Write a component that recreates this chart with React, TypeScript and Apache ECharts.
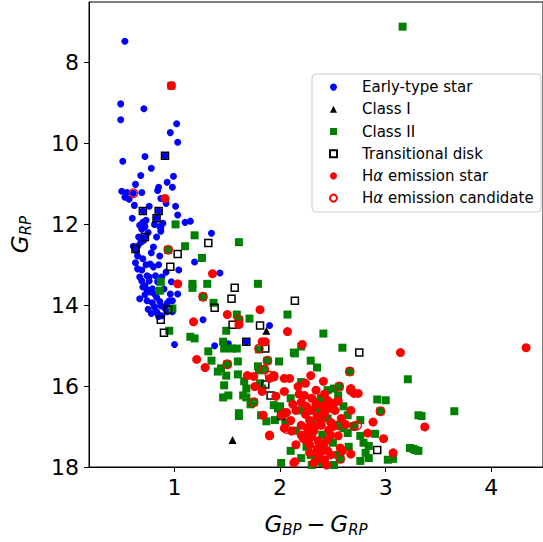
import React, { useEffect, useRef } from 'react';
import * as echarts from 'echarts';

const xTicks = [1, 2, 3, 4];
const yTicks = [8, 10, 12, 14, 16, 18];

const seriesNames = ['Early-type star', 'Class I', 'Class II', 'Transitional disk', 'Hα emission star', 'Hα emission candidate'];

const earlyType = [
  [0.53, 7.47], [0.49, 9.02], [0.71, 9.14], [0.49, 9.41], [1.02, 9.51], [0.96, 9.73], [1.03, 9.97], [0.72, 10.32], [0.91, 10.30],
  [0.51, 10.44], [0.78, 10.61], [0.68, 10.79], [0.99, 10.81], [0.93, 10.96], [0.63, 11.01], [0.85, 11.08], [0.84, 11.16], [0.98, 11.08],
  [0.50, 11.18], [0.69, 11.21], [0.55, 11.21], [0.53, 11.33], [0.57, 11.38], [0.61, 11.23], [0.87, 11.36], [0.92, 11.48], [0.62, 11.53],
  [0.76, 11.55], [1.01, 11.55], [0.70, 11.67], [0.85, 11.67], [1.03, 11.77], [0.83, 11.85], [0.60, 11.85], [0.73, 11.90], [0.70, 11.95],
  [0.67, 12.02], [0.72, 12.05], [0.81, 12.00], [0.86, 12.05], [0.89, 11.97], [0.87, 12.09], [0.87, 12.17], [0.69, 12.12], [1.10, 11.95],
  [1.15, 11.92], [0.66, 12.31], [0.83, 12.31], [0.72, 12.31], [0.71, 12.39], [1.35, 12.22], [0.63, 12.61], [0.65, 12.54], [0.61, 12.54],
  [0.80, 12.56], [0.64, 12.66], [0.65, 12.78], [0.86, 12.78], [0.63, 12.95], [1.19, 12.93], [0.73, 13.00], [0.77, 12.98], [0.85, 13.00],
  [1.04, 13.13], [0.65, 13.10], [0.69, 13.13], [1.43, 13.20], [0.67, 13.30], [0.76, 13.30], [0.82, 13.27], [0.74, 13.27], [0.92, 13.18],
  [0.69, 13.40], [0.76, 13.40], [0.84, 13.42], [0.97, 13.42], [0.72, 13.52], [0.74, 13.62], [0.72, 13.74], [0.77, 13.67], [0.79, 13.59],
  [0.81, 13.72], [0.96, 13.72], [1.03, 13.72], [0.67, 13.84], [0.74, 13.89], [0.79, 13.94], [0.81, 14.04], [0.86, 13.91], [0.87, 14.01],
  [0.98, 13.89], [0.83, 14.16], [0.85, 14.28], [0.91, 14.04], [0.95, 13.89], [0.84, 14.21], [0.88, 14.26], [0.93, 14.16], [0.98, 14.16],
  [0.91, 14.08], [1.27, 14.36], [1.90, 14.50], [1.00, 14.97], [1.38, 15.00], [1.51, 14.95], [1.68, 14.90],
  [0.68, 12.45], [0.75, 12.20], [0.78, 12.70], [0.70, 12.85], [0.80, 13.05], [0.88, 13.30], [0.70, 13.55], [0.83, 13.80], [0.90, 13.60],
  [0.75, 14.10], [0.93, 13.95], [0.78, 14.20],
];

const classI = [[1.87, 14.63], [1.55, 17.33]];

const classII = [
  [3.16, 7.11], [0.97, 8.57], [1.01, 12.00], [1.19, 12.27], [1.61, 12.44], [1.10, 12.54], [1.26, 12.83], [0.94, 12.63], [0.87, 13.42],
  [0.86, 13.64], [1.17, 13.47], [1.17, 13.57], [1.31, 13.47], [1.79, 13.47], [1.27, 13.79], [1.37, 13.94], [0.98, 14.08], [1.59, 14.23],
  [1.71, 14.33], [1.61, 14.36], [1.49, 14.63], [0.95, 14.63], [1.15, 14.78], [1.19, 14.82], [2.07, 14.23], [1.46, 14.90], [1.47, 15.07],
  [1.54, 15.07], [1.59, 15.07], [1.32, 15.14], [1.35, 15.37], [1.60, 15.39], [1.41, 15.64], [1.44, 15.56], [1.49, 15.74], [1.60, 15.71],
  [1.50, 15.46], [1.79, 15.51], [1.80, 15.61], [1.99, 15.39], [2.14, 15.19], [2.29, 15.37], [2.35, 15.54], [2.41, 14.70], [2.59, 15.05],
  [2.13, 15.17], [2.20, 15.02], [1.47, 15.98], [1.66, 15.88], [1.68, 16.06], [1.46, 16.28], [1.51, 16.23], [1.65, 16.23], [1.68, 16.28],
  [1.61, 16.67], [1.61, 16.74], [1.82, 16.72], [1.94, 16.47], [1.98, 16.55], [1.81, 15.93], [1.83, 16.06], [1.72, 16.45], [1.80, 15.09],
  [1.88, 15.37], [3.21, 15.83], [2.92, 16.33], [3.00, 16.35], [3.31, 16.72], [3.65, 16.62], [3.34, 16.74], [3.26, 17.55], [3.31, 17.60],
  [3.07, 17.80], [3.02, 17.82], [2.01, 17.90], [1.87, 16.87], [1.95, 16.84], [2.64, 16.72], [2.76, 16.84], [2.90, 17.18], [2.76, 17.23],
  [2.79, 17.40], [2.84, 17.48], [2.81, 17.65], [2.84, 17.78], [2.76, 17.85], [2.64, 17.16], [2.51, 16.06], [2.55, 16.23], [2.48, 16.42],
  [2.60, 17.04], [3.23, 17.53], [3.28, 17.58], [2.20, 17.78], [2.29, 17.70], [2.36, 17.85], [2.51, 17.95],
  [2.20, 16.60], [2.30, 16.90], [2.40, 17.20], [2.35, 16.40], [2.45, 16.80], [2.15, 17.10], [2.25, 17.50], [2.50, 17.40], [2.55, 17.70],
  [2.40, 17.90], [2.30, 17.95], [2.10, 16.30], [2.05, 16.90], [2.60, 16.50], [2.70, 17.00], [2.65, 17.50], [2.20, 15.90], [2.45, 16.10],
  [2.10, 17.60], [2.00, 16.50],
  [1.85, 15.59], [1.94, 15.76], [2.56, 16.01], [2.66, 15.64], [2.39, 16.30], [2.95, 16.62], [2.70, 16.99], [2.55, 16.97], [2.57, 17.80],
  [2.67, 16.10], [2.04, 16.67], [2.36, 16.57], [1.75, 16.40],
];

const transitional = [
  [0.91, 10.30], [0.70, 11.67], [0.85, 11.67], [0.83, 11.85], [0.72, 12.31], [0.63, 12.61], [1.32, 12.46], [1.03, 12.73], [0.96, 13.05],
  [1.57, 13.57], [1.54, 13.84], [0.94, 14.11], [1.38, 14.06], [0.87, 14.36], [1.81, 14.50], [0.90, 14.68], [1.68, 14.90], [1.55, 14.48],
  [1.86, 15.07], [2.14, 13.89], [2.75, 15.17], [2.92, 17.58], [1.86, 15.96], [1.91, 16.23], [2.01, 16.74],
];

const haStar = [
  [0.97, 8.57], [0.91, 11.36], [1.36, 13.22], [1.03, 13.47], [1.18, 14.41], [1.50, 14.23], [1.81, 14.11], [1.61, 14.48], [1.83, 14.90],
  [1.86, 14.90], [2.07, 14.65], [2.21, 14.97], [3.14, 15.17], [4.33, 15.05], [1.21, 15.34], [1.29, 15.54], [1.69, 15.74], [1.75, 15.76],
  [1.76, 16.01], [1.83, 16.13], [1.90, 15.81], [1.94, 15.74], [1.84, 16.72], [1.90, 17.23], [2.14, 17.87], [3.07, 17.65], [2.98, 17.30],
  [2.88, 16.89], [3.37, 17.01], [2.04, 15.81], [2.09, 15.81], [2.29, 15.74], [2.41, 15.88], [2.24, 15.93], [2.34, 16.10], [2.67, 16.06],
  [2.70, 16.18], [2.74, 16.18], [1.96, 16.25], [2.04, 16.13], [2.17, 16.01], [2.23, 16.23], [2.45, 16.35], [2.51, 16.42], [2.46, 16.55],
  [2.55, 16.37], [2.67, 16.60], [1.90, 17.21], [2.04, 17.04], [2.11, 17.11], [2.20, 16.97], [2.26, 17.04], [2.32, 17.11], [2.39, 16.97],
  [2.46, 17.09], [2.48, 17.21], [2.55, 17.23], [2.83, 17.16], [2.20, 17.21], [2.26, 17.36], [2.36, 17.36], [2.41, 17.48], [2.45, 17.60],
  [2.48, 17.70], [2.42, 17.82], [2.36, 17.70], [2.15, 17.45], [2.57, 17.53], [2.59, 17.60], [2.67, 17.68], [2.13, 17.90], [2.01, 16.72],
  [2.25, 16.50], [2.30, 16.60], [2.35, 16.75], [2.40, 16.50], [2.20, 16.40], [2.15, 16.60], [2.28, 16.85], [2.38, 16.85], [2.42, 16.70],
  [2.33, 17.00], [2.30, 17.25], [2.22, 17.30], [2.40, 17.60], [2.35, 17.55], [2.38, 17.80], [2.32, 17.90], [2.44, 17.95], [2.28, 17.65],
  [2.48, 16.90], [2.52, 16.60], [2.58, 16.80], [2.18, 16.20], [2.30, 16.30], [2.42, 16.20], [2.12, 16.45], [2.06, 16.65], [2.10, 16.85],
  [2.24, 16.70], [2.50, 17.00], [2.62, 16.95], [2.34, 16.45], [2.26, 17.15], [2.44, 17.35], [2.28, 17.45],
];

const haCandidate = [
  [0.61, 11.23], [0.94, 12.63], [1.27, 13.79], [1.61, 14.36], [1.50, 15.46], [1.80, 15.07], [1.88, 15.37], [1.85, 15.59], [1.94, 15.76],
  [1.75, 16.40], [2.56, 16.01], [2.66, 15.64], [2.39, 16.30], [2.95, 16.62], [2.70, 16.99], [2.73, 16.97], [2.55, 16.97], [2.57, 17.80],
  [1.90, 15.74], [2.67, 16.10], [2.04, 16.67], [2.06, 17.06], [2.36, 16.57], [2.42, 16.60],
];

const FONT = 'DejaVu Sans';

export default function App() {
  const ref = useRef<HTMLDivElement>(null);

  useEffect(() => {
    if (!ref.current) return;
    const chart = echarts.init(ref.current, null, { renderer: 'svg' });

    const nameRich = {
      g: { fontSize: 23, fontStyle: 'italic', fontFamily: FONT, color: '#000', lineHeight: 26, verticalAlign: 'bottom', padding: [0, 0, 2, 0] },
      s: { fontSize: 15, fontStyle: 'italic', fontFamily: FONT, color: '#000', lineHeight: 18, verticalAlign: 'bottom' },
      m: { fontSize: 23, fontFamily: FONT, color: '#000', lineHeight: 26, verticalAlign: 'bottom', padding: [0, 0, 2, 0] },
      w: { fontSize: 15, fontFamily: FONT, color: '#000', lineHeight: 18, verticalAlign: 'bottom' },
    };

    const axisCommon = {
      type: 'value',
      splitLine: { show: false },
      axisLine: { show: true, onZero: false, lineStyle: { color: '#000', width: 1 } },
      axisTick: { show: true, length: 5, lineStyle: { color: '#000', width: 1 } },
    };

    chart.setOption({
      animation: false,
      backgroundColor: '#ffffff',
      grid: { left: 86, right: -1, top: 2, bottom: 73, show: true, borderColor: '#000', borderWidth: 1, backgroundColor: 'transparent' },
      xAxis: {
        ...axisCommon,
        min: 0.19,
        max: 4.49,
        axisTick: { ...axisCommon.axisTick, customValues: xTicks },
        axisLabel: { customValues: xTicks, fontSize: 22, color: '#000', fontFamily: FONT, margin: 9 },
        name: '{g|G}{s|BP}{w| }{m|−}{w| }{g|G}{s|RP}',
        nameLocation: 'middle',
        nameGap: 44,
        nameTextStyle: { rich: nameRich },
      },
      yAxis: {
        ...axisCommon,
        inverse: true,
        min: 6.5,
        max: 18,
        axisTick: { ...axisCommon.axisTick, customValues: yTicks },
        axisLabel: { customValues: yTicks, fontSize: 22, color: '#000', fontFamily: FONT, margin: 10 },
        name: '{g|G}{s|RP}',
        nameLocation: 'middle',
        nameGap: 56,
        nameTextStyle: { rich: nameRich },
      },
      legend: {
        orient: 'vertical',
        left: 329,
        top: 76,
        padding: 0,
        itemGap: 0,
        itemWidth: 7,
        itemHeight: 7,
        z: 5,
        data: seriesNames,
        formatter: (n: string) => '{sp| }' + n.replace('α', '{i|α}'),
        textStyle: {
          fontSize: 15, fontFamily: FONT, color: '#000', lineHeight: 22.2,
          rich: {
            sp: { width: 20, fontSize: 15, lineHeight: 22.2 },
            i: { fontSize: 15, fontFamily: FONT, fontStyle: 'italic', color: '#000', lineHeight: 22.2 },
          },
        },
      },
      graphic: [
        {
          type: 'rect', z: 4,
          shape: { x: 312, y: 74, width: 229, height: 138, r: 4 },
          style: { fill: 'rgba(255,255,255,0.8)', stroke: '#cccccc', lineWidth: 1 },
        },
      ],
      series: [
        { name: seriesNames[0], type: 'scatter', data: earlyType, symbol: 'circle', symbolSize: 7, itemStyle: { color: '#0000ff', opacity: 1 } },
        { name: seriesNames[1], type: 'scatter', data: classI, symbol: 'triangle', symbolSize: 8, itemStyle: { color: '#000000', opacity: 1 } },
        { name: seriesNames[2], type: 'scatter', data: classII, symbol: 'rect', symbolSize: 8, itemStyle: { color: '#008000', opacity: 1 } },
        { name: seriesNames[3], type: 'scatter', data: transitional, symbol: 'rect', symbolSize: 7, itemStyle: { color: 'rgba(0,0,0,0)', borderColor: '#000000', borderWidth: 1.5, opacity: 1 } },
        { name: seriesNames[4], type: 'scatter', data: haStar, symbol: 'circle', symbolSize: 9, itemStyle: { color: '#ff0000', opacity: 1 } },
        { name: seriesNames[5], type: 'scatter', data: haCandidate, symbol: 'circle', symbolSize: 8.5, itemStyle: { color: 'rgba(0,0,0,0)', borderColor: '#ff0000', borderWidth: 1.3, opacity: 1 } },
      ],
    });

    return () => chart.dispose();
  }, []);

  return <div ref={ref} style={{ position: 'fixed', left: 0, top: 0, width: 543, height: 542 }} />;
}
